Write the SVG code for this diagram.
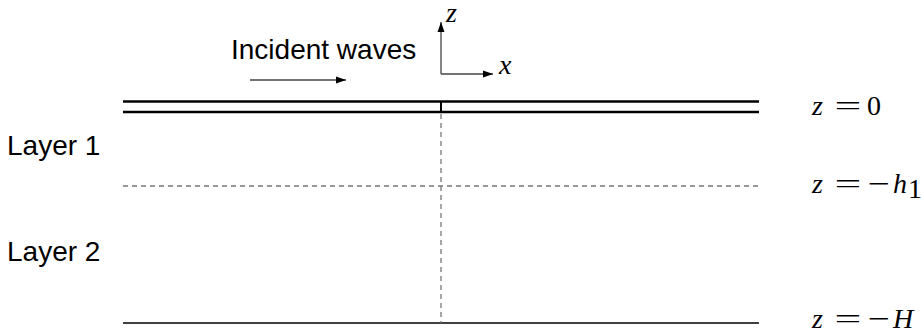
<svg xmlns="http://www.w3.org/2000/svg" width="921" height="331" viewBox="0 0 921 331">
<style>
.lbl{font-family:"Liberation Sans",Arial,sans-serif;font-size:28px;fill:#000}
.math{font-family:"Liberation Serif","DejaVu Serif",serif;font-size:28px;fill:#000}
.it{font-style:italic}
.dash{stroke:#777;stroke-width:1.3;stroke-dasharray:5,4;fill:none}
</style>
<defs>
<marker id="ah" viewBox="0 0 10 10" refX="10" refY="5" markerWidth="10" markerHeight="10" markerUnits="userSpaceOnUse" orient="auto">
<path d="M0,1.5 L10,5 L0,8.5 Z" fill="#000"/>
</marker>
</defs>
<rect width="921" height="331" fill="#fff"/>
<g id="plate">
<line x1="123" y1="101.5" x2="759" y2="101.5" stroke="#000" stroke-width="2.6"/>
<line x1="123" y1="112" x2="759" y2="112" stroke="#000" stroke-width="2.6"/>
<line x1="441" y1="101.5" x2="441" y2="112" stroke="#000" stroke-width="2"/>
</g>
<g id="interface">
<line class="dash" x1="123" y1="186" x2="759" y2="186"/>
</g>
<g id="bottom">
<line x1="123" y1="323" x2="759" y2="323" stroke="#000" stroke-width="1.3"/>
</g>
<g id="connectors">
<line class="dash" x1="441" y1="114" x2="441" y2="323"/>
<line x1="250" y1="80" x2="346" y2="80" stroke="#444" stroke-width="1.3" marker-end="url(#ah)"/>
<line x1="441" y1="74" x2="441" y2="22" stroke="#444" stroke-width="1.3" marker-end="url(#ah)"/>
<line x1="441" y1="74" x2="493" y2="74" stroke="#444" stroke-width="1.3" marker-end="url(#ah)"/>
</g>
<g id="axis-labels">
<text class="math it" x="446" y="22">z</text>
<text class="math it" x="499" y="74">x</text>
</g>
<g id="incident">
<text class="lbl" x="231" y="59">Incident waves</text>
</g>
<g id="layer1"><text class="lbl" x="7" y="155">Layer 1</text></g>
<g id="layer2"><text class="lbl" x="7" y="261">Layer 2</text></g>
<g id="z0">
<text class="math it" x="812" y="115">z</text>
<text class="math" text-anchor="middle" transform="translate(848,115) scale(1.7,1)">=</text>
<text class="math" x="867" y="115">0</text>
</g>
<g id="zh1">
<text class="math it" x="812" y="193">z</text>
<text class="math" text-anchor="middle" transform="translate(848,193) scale(1.7,1)">=</text>
<text class="math" text-anchor="middle" transform="translate(879,193) scale(1.4,1)">−</text>
<text class="math it" x="893" y="193">h</text>
<text class="math" x="908" y="198" font-size="19">1</text>
</g>
<g id="zH">
<text class="math it" x="812" y="328">z</text>
<text class="math" text-anchor="middle" transform="translate(848,328) scale(1.7,1)">=</text>
<text class="math" text-anchor="middle" transform="translate(879,328) scale(1.4,1)">−</text>
<text class="math it" x="893" y="328">H</text>
</g>
</svg>
